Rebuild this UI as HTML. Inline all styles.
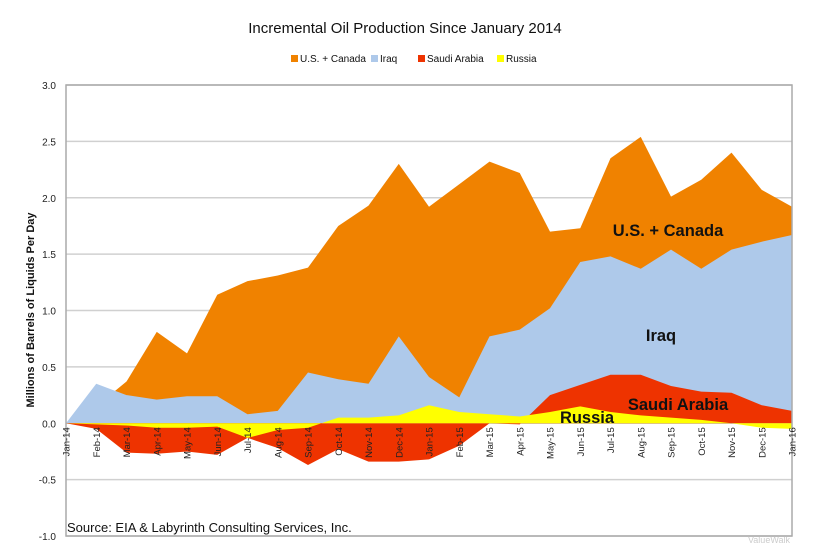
<!DOCTYPE html>
<html><head><meta charset="utf-8"><style>
body{margin:0;background:#fff;}
svg{display:block;font-family:"Liberation Sans",sans-serif;}
</style></head><body>
<svg id="chart" width="827" height="553">
<text x="405" y="33" text-anchor="middle" font-size="15" fill="#111">Incremental Oil Production Since January 2014</text>
<g id="legend" font-size="10" fill="#111"></g>
<g id="grid"></g>
<g id="areas"></g>
<g id="axes"></g>
<text transform="translate(34,310) rotate(-90)" text-anchor="middle" font-size="11" font-weight="bold" fill="#111">Millions of Barrels of Liquids Per Day</text>
<text x="67" y="532" font-size="13" fill="#111">Source: EIA &amp; Labyrinth Consulting Services, Inc.</text>
<text x="668" y="236" text-anchor="middle" font-size="16.5" font-weight="bold" fill="#111">U.S. + Canada</text>
<text x="661" y="341" text-anchor="middle" font-size="16.5" font-weight="bold" fill="#111">Iraq</text>
<text x="678" y="410" text-anchor="middle" font-size="16.5" font-weight="bold" fill="#111">Saudi Arabia</text>
<text x="587" y="423" text-anchor="middle" font-size="16.5" font-weight="bold" fill="#111">Russia</text>
<text x="790" y="543" text-anchor="end" font-size="9" fill="#ccc">ValueWalk</text>
</svg>
<script>
const categories=["Jan-14","Feb-14","Mar-14","Apr-14","May-14","Jun-14","Jul-14","Aug-14","Sep-14","Oct-14","Nov-14","Dec-14","Jan-15","Feb-15","Mar-15","Apr-15","May-15","Jun-15","Jul-15","Aug-15","Sep-15","Oct-15","Nov-15","Dec-15","Jan-16"];
const usCanada=[0,0.15,0.37,0.81,0.62,1.14,1.26,1.31,1.38,1.75,1.93,2.30,1.92,2.12,2.32,2.22,1.70,1.73,2.35,2.54,2.01,2.16,2.40,2.07,1.92];
const iraq=[0,0.35,0.25,0.21,0.24,0.24,0.08,0.11,0.45,0.39,0.35,0.77,0.41,0.23,0.77,0.83,1.02,1.43,1.48,1.37,1.54,1.37,1.54,1.61,1.67];
const saudi=[0,-0.05,-0.26,-0.27,-0.25,-0.28,-0.13,-0.22,-0.37,-0.23,-0.34,-0.34,-0.32,-0.20,0,-0.01,0.25,0.34,0.43,0.43,0.33,0.28,0.27,0.16,0.11];
const russia=[0,-0.01,-0.02,-0.04,-0.04,-0.03,-0.13,-0.06,-0.04,0.05,0.05,0.07,0.16,0.10,0.08,0.06,0.10,0.15,0.10,0.07,0.05,0.03,0,-0.04,-0.05];
const yTicks=[3.0,2.5,2.0,1.5,1.0,0.5,0.0,-0.5,-1.0];
const seriesNames=["U.S. + Canada","Iraq","Saudi Arabia","Russia"];
const colors=["#f08200","#aec9ea","#ee3300","#ffff00"];
const NS="http://www.w3.org/2000/svg";
const L=66,R=792,T=85,B=536,ymin=-1,ymax=3;
function xs(i){return L+i*(R-L)/(categories.length-1);}
function ys(v){return B-(v-ymin)/(ymax-ymin)*(B-T);}
function mk(tag,attrs,parent){const e=document.createElementNS(NS,tag);for(const k in attrs)e.setAttribute(k,attrs[k]);parent.appendChild(e);return e;}
const grid=document.getElementById('grid'),areas=document.getElementById('areas'),axes=document.getElementById('axes'),legend=document.getElementById('legend');
yTicks.forEach(t=>{
  const ln=mk('line',{x1:L,x2:R,y1:ys(t),y2:ys(t),stroke:'#d0d0d0','stroke-width':1.5},grid);
  
  
  const tx=mk('text',{x:L-10,y:ys(t)+4,'text-anchor':'end','font-size':10,fill:'#222'},axes);
  tx.textContent=t.toFixed(1);
  
  
});
[usCanada,iraq,saudi,russia].forEach((s,k)=>{
  let d='M'+xs(0)+','+ys(0);
  s.forEach((v,i)=>{d+=' L'+xs(i)+','+ys(v);});
  d+=' L'+xs(s.length-1)+','+ys(0)+' Z';
  const p=mk('path',{d:d,fill:colors[k]},areas);
  
  
});
const fr=mk('rect',{x:L,y:T,width:R-L,height:B-T,fill:'none',stroke:'#aaa','stroke-width':1.5},axes);


categories.forEach((c,i)=>{
  const tx=mk('text',{transform:'translate('+(xs(i)+3.5)+','+(ys(0)+4)+') rotate(-90)','text-anchor':'end','font-size':9.5,fill:'#222'},axes);
  tx.textContent=c;
  
  
});
const legX=[291,371,418,497];
seriesNames.forEach((n,k)=>{
  const r=mk('rect',{x:legX[k],y:55,width:7,height:7,fill:colors[k]},legend);
  
  
  const t=mk('text',{x:legX[k]+9,y:62},legend);
  t.textContent=n;
  
  
});
</script>
</body></html>
